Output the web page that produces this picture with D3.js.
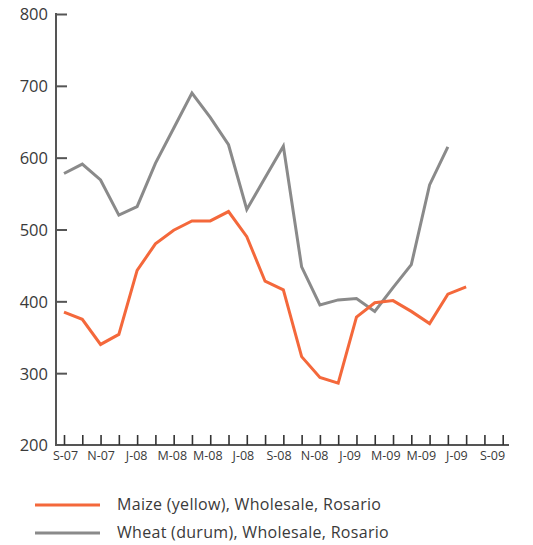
<!DOCTYPE html>
<html><head><meta charset="utf-8">
<script src="https://cdn.jsdelivr.net/npm/d3@7"></script>
<style>
html,body{margin:0;padding:0;background:#fff;}
svg{display:block;}
</style></head>
<body>
<svg id="chart" width="533" height="545"></svg>
<script>
const tickLabels = ["S-07","N-07","J-08","M-08","M-08","J-08","S-08","N-08","J-09","M-09","M-09","J-09","S-09"];
const yTicks = [200,300,400,500,600,700,800];
const maize = [385,375,340,354,443,480,499,512,512,525,490,428,416,323,294,286,378,398,401,386,369,410,420];
const wheat = [578,591,569,520,532,592,641,690,656,618,528,572,616,448,395,402,404,386,419,451,562,615];
const seriesNames = ["Maize (yellow), Wholesale, Rosario","Wheat (durum), Wholesale, Rosario"];
const colors = ["#f4683b","#8a8a8a"];

const svg = d3.select("#chart");
const x = d3.scaleLinear().domain([0,24]).range([64,502.7]);
const y = d3.scaleLinear().domain([200,800]).range([445,14]);
// label centres are spread slightly tighter than the ticks in the original
const xLab = d3.scaleLinear().domain([0,12]).range([65,492]);
const axisColor = "#555";
const textColor = "#3a3a3a";

// axis lines
svg.append("line").attr("x1",56).attr("x2",56).attr("y1",13).attr("y2",446)
  .attr("stroke",axisColor).attr("stroke-width",2);
svg.append("line").attr("x1",55).attr("x2",509).attr("y1",y(200)).attr("y2",y(200))
  .attr("stroke",axisColor).attr("stroke-width",2);

// y axis
const yAxis = d3.axisLeft(y).tickValues(yTicks).tickSizeInner(-11).tickSizeOuter(0).tickPadding(8);
const gy = svg.append("g").attr("transform","translate(56,0)").call(yAxis);
gy.select(".domain").remove();
gy.selectAll(".tick line").attr("stroke",axisColor).attr("stroke-width",2)
  .filter(d=>d===200).remove();
gy.selectAll(".tick text").attr("fill",textColor).style("font-family","Open Sans, sans-serif")
  .style("font-size","16.5px").attr("dy","0.36em");

// x axis
const xAxis = d3.axisBottom(x).tickValues(d3.range(25)).tickSizeInner(-10).tickSizeOuter(0).tickPadding(6)
  .tickFormat(i => i % 2 === 0 ? tickLabels[i/2] : "");
const gx = svg.append("g").attr("transform",`translate(0,${y(200)})`).call(xAxis);
gx.select(".domain").remove();
gx.selectAll(".tick line").attr("stroke","#333").attr("stroke-width",1.6);
gx.selectAll(".tick text").attr("fill",textColor).style("font-family","Open Sans, sans-serif")
  .style("font-size","12.5px")
  .attr("x", i => i % 2 === 0 ? xLab(i/2) - x(i) : 0);

// lines
const line = d3.line().x((d,i)=>x(i)).y(d=>y(d));
[wheat, maize].forEach((s)=>{
  const k = s === maize ? 0 : 1;
  svg.append("path").datum(s).attr("d",line).attr("fill","none")
    .attr("stroke",colors[k]).attr("stroke-width",3).attr("stroke-linejoin","miter");
});

// legend
const legY = [505,533];
seriesNames.forEach((n,k)=>{
  svg.append("line").attr("x1",35).attr("x2",100).attr("y1",legY[k]).attr("y2",legY[k])
    .attr("stroke",colors[k]).attr("stroke-width",3);
  svg.append("text").attr("x",117).attr("y",legY[k]+4.8)
    .attr("fill",textColor).style("font-family","Open Sans, sans-serif").style("font-size","16px")
    .style("letter-spacing","0.3px")
    .text(n);
});
</script>
</body></html>
